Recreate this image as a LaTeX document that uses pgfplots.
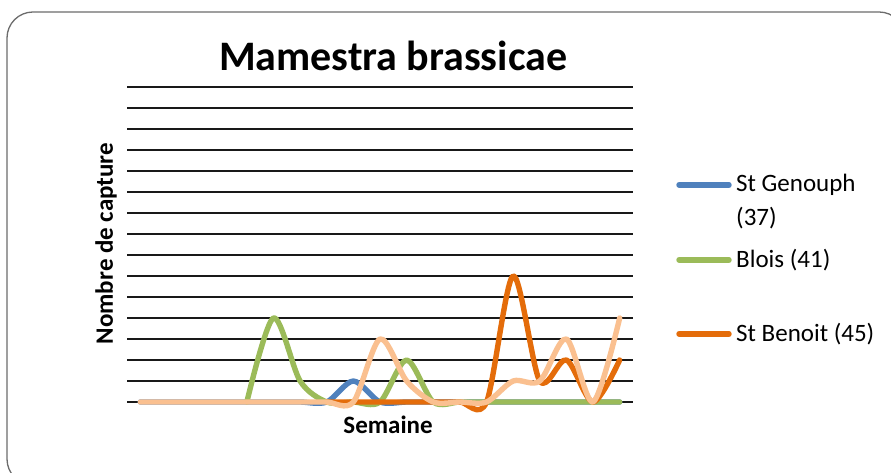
\documentclass[border=0pt]{standalone}
\usepackage{pgfplots}
\pgfplotsset{compat=1.18}
\usepackage{fontspec}
\setmainfont{Carlito}
\definecolor{cBlue}{HTML}{4F81BD}
\definecolor{cGreen}{HTML}{9BBB59}
\definecolor{cOrange}{HTML}{E46C0A}
\definecolor{cPeach}{HTML}{FAC090}
\begin{document}
\begin{tikzpicture}
\clip (0,0) rectangle (891bp,473bp);
\fill[white] (0,0) rectangle (891bp,473bp);
\draw[gray!85!black, line width=1.3bp, rounded corners=26bp] (7bp,461bp) rectangle (905bp,-12bp);
\begin{axis}[
  at={(127bp,71bp)}, anchor=south west,
  scale only axis, width=506bp, height=315bp,
  xmin=-0.5, xmax=18.5, ymin=0, ymax=15,
  ytick={0,...,15}, yticklabels={}, xtick=\empty,
  ymajorgrids, grid style={black!90, line width=1.4bp},
  axis line style={draw=none}, major tick length=0pt,
  clip=false,
  title={\fontsize{42bp}{50bp}\selectfont\bfseries Mamestra brassicae},
  title style={at={(axis description cs:0.526,1.079)}, anchor=center, inner sep=0pt},
  xlabel={\fontsize{25bp}{30bp}\selectfont\bfseries Semaine},
  xlabel style={at={(axis description cs:0.516,-0.072)}, anchor=center, inner sep=0pt},
  ylabel={\fontsize{25bp}{30bp}\selectfont\bfseries Nombre de capture},
  ylabel style={at={(axis description cs:-0.0415,0.503)}, anchor=center, inner sep=0pt},
  every axis plot/.append style={line width=5.4bp, line cap=round, line join=round, no markers},
]
\addplot[cBlue, smooth, tension=0.5] coordinates {(0,0)(1,0)(2,0)(3,0)(4,0)(5,0)(6,0)(7,0)(8,1)(9,0)(10,0)(11,0)(12,0)(13,0)(14,0)(15,0)(16,0)(17,0)(18,0)};
\addplot[cGreen, smooth, tension=0.5] coordinates {(4,0)(5,4)(6,1)(7,0)(8,0)(9,0)(10,2)(11,0)(12,0)(13,0)(14,0)(15,0)(16,0)(17,0)(18,0)};
\addplot[cOrange, smooth, tension=0.5] coordinates {(7,0)(8,0)(9,0)(10,0)(11,0)(12,0)(13,0)(14,6)(15,1)(16,2)(17,0)(18,2)};
\addplot[cPeach, smooth, tension=0.5] coordinates {(0,0)(1,0)(2,0)(3,0)(4,0)(5,0)(6,0)(7,0)(8,0)(9,3)(10,1)(11,0)(12,0)(13,0)(14,1)(15,1)(16,3)(17,0)(18,4)};
\end{axis}
% legend
\begin{scope}[line width=5.4bp, line cap=round]
\draw[cBlue] (679bp,288bp) -- (729bp,288bp);
\draw[cGreen] (679bp,213bp) -- (729bp,213bp);
\draw[cOrange] (679bp,139bp) -- (729bp,139bp);
\end{scope}
\begin{scope}[every node/.style={anchor=west, inner sep=0pt, font=\fontsize{25bp}{33bp}\selectfont, align=left}]
\node at (736bp,288bp) {St Genouph};
\node at (736bp,255bp) {(37)};
\node at (736bp,213bp) {Blois (41)};
\node at (736bp,139bp) {St Benoit (45)};
\end{scope}
\end{tikzpicture}
\end{document}
